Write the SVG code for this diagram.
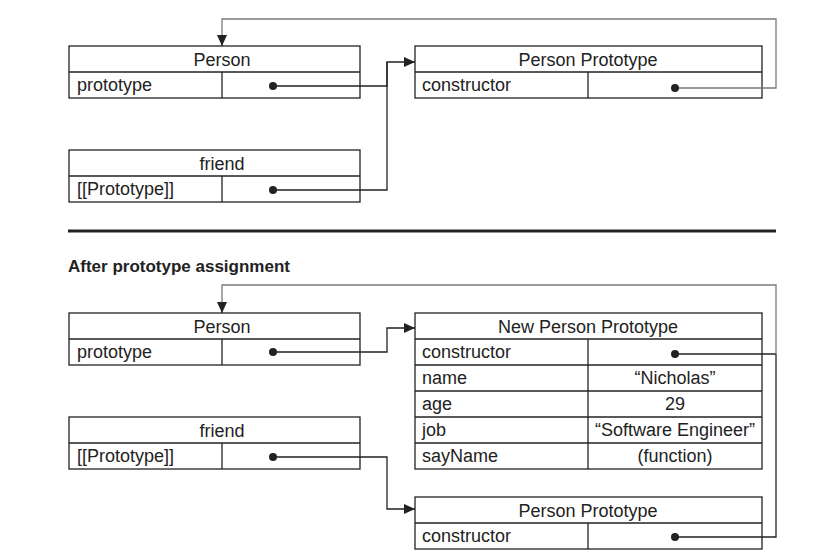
<svg xmlns="http://www.w3.org/2000/svg" width="833" height="558" viewBox="0 0 833 558">
<style>
.box{fill:#fff;stroke:#222;stroke-width:1.3}
.t{font-family:"Liberation Sans",Arial,sans-serif;font-size:18px;fill:#222}
.c{text-anchor:middle}
.h{font-family:"Liberation Sans",Arial,sans-serif;font-size:17px;font-weight:bold;fill:#222}
.ln{fill:none;stroke:#222;stroke-width:1.3}
.gl{fill:none;stroke:#7a7a7a;stroke-width:1.3}
.dot{fill:#222}
</style>
<defs>
<marker id="ah" markerWidth="11" markerHeight="10" refX="11" refY="5" orient="auto" markerUnits="userSpaceOnUse">
<path d="M0,0 L11,5 L0,10 Z" fill="#222"/>
</marker>
</defs>
<rect width="833" height="558" fill="#fff"/>

<g id="person1">
<rect class="box" x="69" y="46" width="291" height="52"/>
<line class="ln" x1="69" y1="72" x2="360" y2="72"/>
<line class="ln" x1="222" y1="72" x2="222" y2="98"/>
<text class="t c" x="222" y="66">Person</text>
<text class="t" x="77" y="91">prototype</text>
</g>
<g id="friend1">
<rect class="box" x="69" y="150" width="291" height="52"/>
<line class="ln" x1="69" y1="176" x2="360" y2="176"/>
<line class="ln" x1="222" y1="176" x2="222" y2="202"/>
<text class="t c" x="222" y="170">friend</text>
<text class="t" x="77" y="195">[[Prototype]]</text>
</g>
<g id="personproto1">
<rect class="box" x="415" y="46" width="347" height="52"/>
<line class="ln" x1="415" y1="72" x2="762" y2="72"/>
<line class="ln" x1="588" y1="72" x2="588" y2="98"/>
<text class="t c" x="588" y="66">Person Prototype</text>
<text class="t" x="422" y="91">constructor</text>
</g>

<line x1="68" y1="231" x2="776" y2="231" stroke="#222" stroke-width="3"/>
<text class="h" x="68" y="272">After prototype assignment</text>

<g id="person2">
<rect class="box" x="69" y="313" width="291" height="52"/>
<line class="ln" x1="69" y1="339" x2="360" y2="339"/>
<line class="ln" x1="222" y1="339" x2="222" y2="365"/>
<text class="t c" x="222" y="333">Person</text>
<text class="t" x="77" y="358">prototype</text>
</g>
<g id="friend2">
<rect class="box" x="69" y="417" width="291" height="52"/>
<line class="ln" x1="69" y1="443" x2="360" y2="443"/>
<line class="ln" x1="222" y1="443" x2="222" y2="469"/>
<text class="t c" x="222" y="437">friend</text>
<text class="t" x="77" y="462">[[Prototype]]</text>
</g>
<g id="newproto">
<rect class="box" x="415" y="313" width="347" height="156"/>
<line class="ln" x1="415" y1="339" x2="762" y2="339"/>
<line class="ln" x1="415" y1="365" x2="762" y2="365"/>
<line class="ln" x1="415" y1="391" x2="762" y2="391"/>
<line class="ln" x1="415" y1="417" x2="762" y2="417"/>
<line class="ln" x1="415" y1="443" x2="762" y2="443"/>
<line class="ln" x1="588" y1="339" x2="588" y2="469"/>
<text class="t c" x="588" y="333">New Person Prototype</text>
<text class="t" x="422" y="358">constructor</text>
<text class="t" x="422" y="384">name</text>
<text class="t c" x="675" y="384">“Nicholas”</text>
<text class="t" x="422" y="410">age</text>
<text class="t c" x="675" y="410">29</text>
<text class="t" x="422" y="436">job</text>
<text class="t c" x="675" y="436">“Software Engineer”</text>
<text class="t" x="422" y="462">sayName</text>
<text class="t c" x="675" y="462">(function)</text>
</g>
<g id="personproto2">
<rect class="box" x="415" y="497" width="347" height="52"/>
<line class="ln" x1="415" y1="523" x2="762" y2="523"/>
<line class="ln" x1="588" y1="523" x2="588" y2="549"/>
<text class="t c" x="588" y="517">Person Prototype</text>
<text class="t" x="422" y="542">constructor</text>
</g>

<g id="connectors">
<path class="ln" d="M273,86 H387 V62 H415" marker-end="url(#ah)"/>
<path class="ln" d="M273,190 H387 V62"/>
<path class="gl" d="M675,88 H776 V19 H222 V37"/>
<path class="ln" d="M222,36 V46" marker-end="url(#ah)"/>
<path class="ln" d="M273,352 H387 V328 H415" marker-end="url(#ah)"/>
<path class="ln" d="M273,457 H387 V509 H415" marker-end="url(#ah)"/>
<path class="ln" d="M675,354 H776"/>
<path class="ln" d="M675,537 H776 V354"/>
<path class="gl" d="M776,354 V285 H222 V304"/>
<path class="ln" d="M222,303 V313" marker-end="url(#ah)"/>
<circle class="dot" cx="273" cy="86" r="4"/>
<circle class="dot" cx="273" cy="190" r="4"/>
<circle class="dot" cx="675" cy="88" r="4"/>
<circle class="dot" cx="273" cy="352" r="4"/>
<circle class="dot" cx="273" cy="457" r="4"/>
<circle class="dot" cx="675" cy="354" r="4"/>
<circle class="dot" cx="675" cy="537" r="4"/>
</g>
</svg>
